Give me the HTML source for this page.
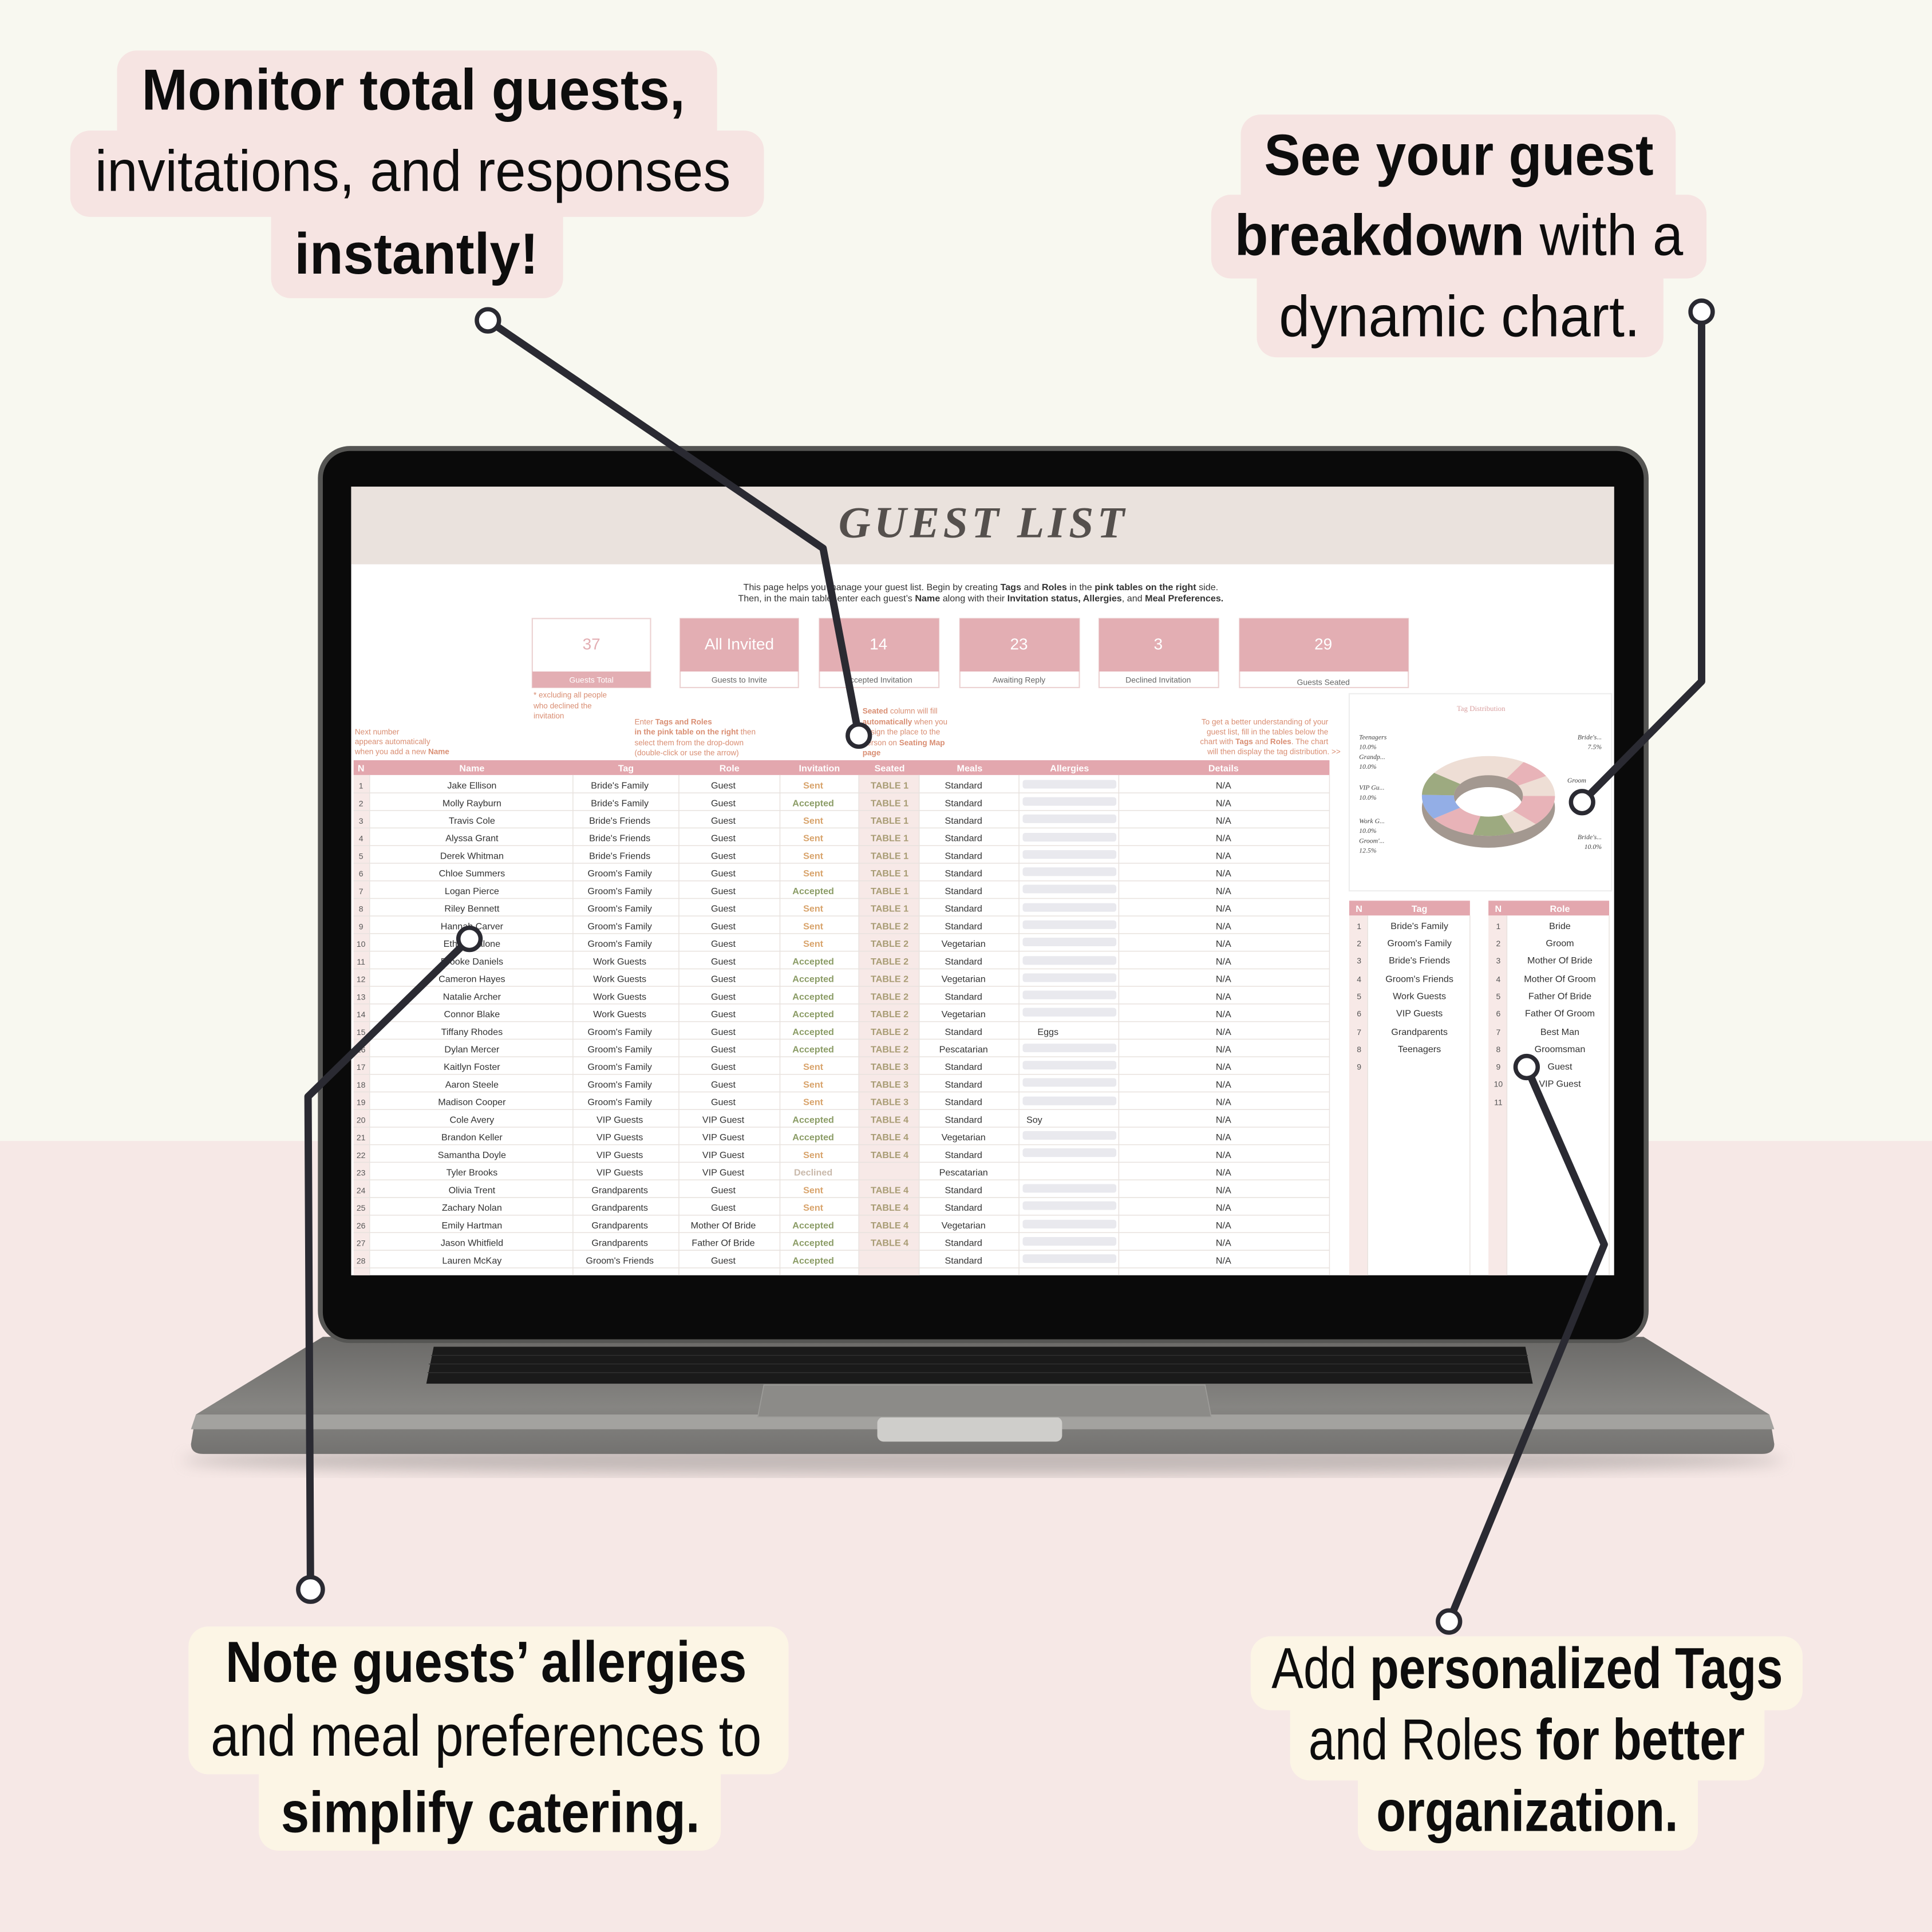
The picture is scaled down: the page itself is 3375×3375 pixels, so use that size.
<!DOCTYPE html>
<html><head><meta charset="utf-8"><style>
html,body{margin:0;padding:0;background:#f8f8f0}
svg{display:block}
.c{font-family:"Liberation Sans",sans-serif;font-size:47px;fill:#0d0d0d}
.b{font-weight:bold}
.t{font-family:"Liberation Sans",sans-serif;font-size:7.5px;fill:#333;text-anchor:middle}
.s{fill:#d8a36b;font-weight:bold}
.a{fill:#8b9c66;font-weight:bold}
.tb{fill:#a89c74;font-weight:bold}
.h{font-family:"Liberation Sans",sans-serif;font-size:7.5px;fill:#fff;font-weight:bold;text-anchor:middle}
.n{font-family:"Liberation Sans",sans-serif;font-size:6.5px;fill:#555;text-anchor:middle}
.o{font-family:"Liberation Sans",sans-serif;font-size:6.3px;fill:#d98e73}
</style></head><body>
<svg width="3375" height="3375" viewBox="0 0 1568 1568" xmlns="http://www.w3.org/2000/svg">
<defs>
<linearGradient id="base" x1="0" y1="0" x2="0" y2="1"><stop offset="0" stop-color="#6a6967"/><stop offset="0.6" stop-color="#868582"/><stop offset="1" stop-color="#737270"/></linearGradient>
<filter id="bl"><feGaussianBlur stdDeviation="6"/></filter>
</defs>
<rect width="1568" height="926" fill="#f8f8f0"/>
<rect y="926" width="1568" height="642" fill="#f6e8e6"/>

<ellipse cx="798" cy="1185" rx="650" ry="12" fill="#a09a98" opacity="0.6" filter="url(#bl)"/>
<path d="M262 1085 L1334 1085 L1436 1148 L1440 1172 Q1440 1180 1430 1180 L165 1180 Q155 1180 155 1172 L159 1148 Z" fill="url(#base)"/>
<path d="M159 1148 L1436 1148 L1440 1160 L155 1160 Z" fill="#a3a29f"/>
<rect x="712" y="1150" width="150" height="20" rx="5" fill="#cfcecb"/>
<path d="M352 1093 L1238 1093 L1244 1123 L346 1123 Z" fill="#1a1a1a"/>
<g stroke="#333" stroke-width="0.6">
<line x1="350" y1="1100" x2="1240" y2="1100"/><line x1="348" y1="1107" x2="1241" y2="1107"/><line x1="347" y1="1114" x2="1242" y2="1114"/>
</g>
<path d="M620 1124 L978 1124 L983 1150 L615 1150 Z" fill="#8c8b88" stroke="#9d9c99" stroke-width="0.8"/>
<rect x="258" y="362" width="1080" height="728" rx="26" fill="#555553"/>
<rect x="262" y="366" width="1072" height="721" rx="22" fill="#0a0a0a"/>
<rect x="285" y="395" width="1025" height="640" fill="#ffffff"/>
<rect x="285" y="395" width="1025" height="63" fill="#eae2dd"/>
<text x="798" y="436" font-family="Liberation Serif,serif" font-style="italic" font-weight="bold" font-size="36" fill="#55504d" text-anchor="middle" letter-spacing="3">GUEST LIST</text>
<text x="796" y="479" class="t" font-size="7.5">This page helps you manage your guest list. Begin by creating <tspan font-weight="bold">Tags</tspan> and <tspan font-weight="bold">Roles</tspan> in the <tspan font-weight="bold">pink tables on the right</tspan> side.</text>
<text x="796" y="488" class="t" font-size="7.5">Then, in the main table, enter each guest’s <tspan font-weight="bold">Name</tspan> along with their <tspan font-weight="bold">Invitation status, Allergies</tspan>, and <tspan font-weight="bold">Meal Preferences.</tspan></text>
<g font-family="Liberation Sans,sans-serif" text-anchor="middle">
<rect x="432" y="502" width="96" height="56" fill="#fff" stroke="#ecd2d2"/><rect x="432" y="545" width="96" height="13" fill="#e3aeb3"/>
<text x="480" y="527" font-size="13" fill="#e3aeb3">37</text><text x="480" y="554" font-size="6.5" fill="#fff">Guests Total</text>
<rect x="552" y="502" width="96" height="56" fill="#fff" stroke="#ecd2d2"/><rect x="552" y="502" width="96" height="43" fill="#e3aeb3"/>
<text x="600" y="527" font-size="13" fill="#fff">All Invited</text><text x="600" y="554" font-size="6.5" fill="#666">Guests to Invite</text>
<rect x="665" y="502" width="97" height="56" fill="#fff" stroke="#ecd2d2"/><rect x="665" y="502" width="97" height="43" fill="#e3aeb3"/>
<text x="713" y="527" font-size="13" fill="#fff">14</text><text x="713" y="554" font-size="6.5" fill="#666">Accepted Invitation</text>
<rect x="779" y="502" width="97" height="56" fill="#fff" stroke="#ecd2d2"/><rect x="779" y="502" width="97" height="43" fill="#e3aeb3"/>
<text x="827" y="527" font-size="13" fill="#fff">23</text><text x="827" y="554" font-size="6.5" fill="#666">Awaiting Reply</text>
<rect x="892" y="502" width="97" height="56" fill="#fff" stroke="#ecd2d2"/><rect x="892" y="502" width="97" height="43" fill="#e3aeb3"/>
<text x="940" y="527" font-size="13" fill="#fff">3</text><text x="940" y="554" font-size="6.5" fill="#666">Declined Invitation</text>
<rect x="1006" y="502" width="137" height="56" fill="#fff" stroke="#ecd2d2"/><rect x="1006" y="502" width="137" height="43" fill="#e3aeb3"/>
<text x="1074" y="527" font-size="13" fill="#fff">29</text><text x="1074" y="556" font-size="6.5" fill="#666">Guests Seated</text>
</g>
<text class="o" x="433" y="566">* excluding all people</text><text class="o" x="433" y="575">who declined the</text><text class="o" x="433" y="583">invitation</text>
<text class="o" x="288" y="596">Next number</text><text class="o" x="288" y="604">appears automatically</text><text class="o" x="288" y="612">when you add a new <tspan font-weight="bold">Name</tspan></text>
<text class="o" x="515" y="588">Enter <tspan font-weight="bold">Tags and Roles</tspan></text><text class="o" x="515" y="596"><tspan font-weight="bold">in the pink table on the right</tspan> then</text><text class="o" x="515" y="605">select them from the drop-down</text><text class="o" x="515" y="613">(double-click or use the arrow)</text>
<text class="o" x="700" y="579"><tspan font-weight="bold">Seated</tspan> column will fill</text><text class="o" x="700" y="588"><tspan font-weight="bold">automatically</tspan> when you</text><text class="o" x="700" y="596">assign the place to the</text><text class="o" x="700" y="605">person on <tspan font-weight="bold">Seating Map</tspan></text><text class="o" x="700" y="613" font-weight="bold">page</text>
<g text-anchor="end"><text class="o" x="1078" y="588">To get a better understanding of your</text><text class="o" x="1078" y="596">guest list, fill in the tables below the</text><text class="o" x="1078" y="604">chart with <tspan font-weight="bold">Tags</tspan> and <tspan font-weight="bold">Roles</tspan>. The chart</text><text class="o" x="1088" y="612">will then display the tag distribution. &gt;&gt;</text></g>

<rect x="697" y="629" width="49" height="406" fill="#f7e9e7"/>
<rect x="287" y="629" width="13" height="406" fill="#f7e9e7"/>
<rect x="287" y="617" width="792" height="12" fill="#e3a7ae"/>
<g class="h"><text x="293" y="626">N</text><text x="383" y="626">Name</text><text x="508" y="626">Tag</text><text x="592" y="626">Role</text><text x="665" y="626">Invitation</text><text x="722" y="626">Seated</text><text x="787" y="626">Meals</text><text x="868" y="626">Allergies</text><text x="993" y="626">Details</text></g>
<g stroke="#e8e2de" stroke-width="0.7">
<line x1="287" y1="643.5" x2="1079" y2="643.5"/><line x1="287" y1="657.8" x2="1079" y2="657.8"/><line x1="287" y1="672" x2="1079" y2="672"/><line x1="287" y1="686.3" x2="1079" y2="686.3"/><line x1="287" y1="700.6" x2="1079" y2="700.6"/><line x1="287" y1="714.9" x2="1079" y2="714.9"/><line x1="287" y1="729.2" x2="1079" y2="729.2"/><line x1="287" y1="743.4" x2="1079" y2="743.4"/><line x1="287" y1="757.7" x2="1079" y2="757.7"/><line x1="287" y1="772" x2="1079" y2="772"/><line x1="287" y1="786.3" x2="1079" y2="786.3"/><line x1="287" y1="800.5" x2="1079" y2="800.5"/><line x1="287" y1="814.8" x2="1079" y2="814.8"/><line x1="287" y1="829.1" x2="1079" y2="829.1"/><line x1="287" y1="843.4" x2="1079" y2="843.4"/><line x1="287" y1="857.7" x2="1079" y2="857.7"/><line x1="287" y1="871.9" x2="1079" y2="871.9"/><line x1="287" y1="886.2" x2="1079" y2="886.2"/><line x1="287" y1="900.5" x2="1079" y2="900.5"/><line x1="287" y1="914.8" x2="1079" y2="914.8"/><line x1="287" y1="929" x2="1079" y2="929"/><line x1="287" y1="943.3" x2="1079" y2="943.3"/><line x1="287" y1="957.6" x2="1079" y2="957.6"/><line x1="287" y1="971.9" x2="1079" y2="971.9"/><line x1="287" y1="986.2" x2="1079" y2="986.2"/><line x1="287" y1="1000.4" x2="1079" y2="1000.4"/><line x1="287" y1="1014.7" x2="1079" y2="1014.7"/><line x1="287" y1="1029" x2="1079" y2="1029"/>
<line x1="300" y1="629" x2="300" y2="1035"/><line x1="465" y1="629" x2="465" y2="1035"/><line x1="551" y1="629" x2="551" y2="1035"/><line x1="633" y1="629" x2="633" y2="1035"/><line x1="697" y1="629" x2="697" y2="1035"/><line x1="746" y1="629" x2="746" y2="1035"/><line x1="827" y1="629" x2="827" y2="1035"/><line x1="908" y1="629" x2="908" y2="1035"/><line x1="1079" y1="629" x2="1079" y2="1035"/>
</g>
<g fill="#e9e9ee">
<rect x="830" y="633" width="76" height="7" rx="2"/><rect x="830" y="647" width="76" height="7" rx="2"/><rect x="830" y="661" width="76" height="7" rx="2"/><rect x="830" y="676" width="76" height="7" rx="2"/><rect x="830" y="690" width="76" height="7" rx="2"/><rect x="830" y="704" width="76" height="7" rx="2"/><rect x="830" y="718" width="76" height="7" rx="2"/><rect x="830" y="733" width="76" height="7" rx="2"/><rect x="830" y="747" width="76" height="7" rx="2"/><rect x="830" y="761" width="76" height="7" rx="2"/><rect x="830" y="776" width="76" height="7" rx="2"/><rect x="830" y="790" width="76" height="7" rx="2"/><rect x="830" y="804" width="76" height="7" rx="2"/><rect x="830" y="818" width="76" height="7" rx="2"/><rect x="830" y="847" width="76" height="7" rx="2"/><rect x="830" y="861" width="76" height="7" rx="2"/><rect x="830" y="875" width="76" height="7" rx="2"/><rect x="830" y="890" width="76" height="7" rx="2"/><rect x="830" y="918" width="76" height="7" rx="2"/><rect x="830" y="932" width="76" height="7" rx="2"/><rect x="830" y="961" width="76" height="7" rx="2"/><rect x="830" y="975" width="76" height="7" rx="2"/><rect x="830" y="990" width="76" height="7" rx="2"/><rect x="830" y="1004" width="76" height="7" rx="2"/><rect x="830" y="1018" width="76" height="7" rx="2"/>
</g>
<g class="t">
<g transform="translate(0,640)"><text x="293" class="n">1</text><text x="383">Jake Ellison</text><text x="503">Bride's Family</text><text x="587">Guest</text><text x="660" class="s">Sent</text><text x="722" class="tb">TABLE 1</text><text x="782">Standard</text><text x="993">N/A</text></g>
<g transform="translate(0,654.3)"><text x="293" class="n">2</text><text x="383">Molly Rayburn</text><text x="503">Bride's Family</text><text x="587">Guest</text><text x="660" class="a">Accepted</text><text x="722" class="tb">TABLE 1</text><text x="782">Standard</text><text x="993">N/A</text></g>
<g transform="translate(0,668.5)"><text x="293" class="n">3</text><text x="383">Travis Cole</text><text x="503">Bride's Friends</text><text x="587">Guest</text><text x="660" class="s">Sent</text><text x="722" class="tb">TABLE 1</text><text x="782">Standard</text><text x="993">N/A</text></g>
<g transform="translate(0,682.8)"><text x="293" class="n">4</text><text x="383">Alyssa Grant</text><text x="503">Bride's Friends</text><text x="587">Guest</text><text x="660" class="s">Sent</text><text x="722" class="tb">TABLE 1</text><text x="782">Standard</text><text x="993">N/A</text></g>
<g transform="translate(0,697.1)"><text x="293" class="n">5</text><text x="383">Derek Whitman</text><text x="503">Bride's Friends</text><text x="587">Guest</text><text x="660" class="s">Sent</text><text x="722" class="tb">TABLE 1</text><text x="782">Standard</text><text x="993">N/A</text></g>
<g transform="translate(0,711.4)"><text x="293" class="n">6</text><text x="383">Chloe Summers</text><text x="503">Groom's Family</text><text x="587">Guest</text><text x="660" class="s">Sent</text><text x="722" class="tb">TABLE 1</text><text x="782">Standard</text><text x="993">N/A</text></g>
<g transform="translate(0,725.6)"><text x="293" class="n">7</text><text x="383">Logan Pierce</text><text x="503">Groom's Family</text><text x="587">Guest</text><text x="660" class="a">Accepted</text><text x="722" class="tb">TABLE 1</text><text x="782">Standard</text><text x="993">N/A</text></g>
<g transform="translate(0,739.9)"><text x="293" class="n">8</text><text x="383">Riley Bennett</text><text x="503">Groom's Family</text><text x="587">Guest</text><text x="660" class="s">Sent</text><text x="722" class="tb">TABLE 1</text><text x="782">Standard</text><text x="993">N/A</text></g>
<g transform="translate(0,754.2)"><text x="293" class="n">9</text><text x="383">Hannah Carver</text><text x="503">Groom's Family</text><text x="587">Guest</text><text x="660" class="s">Sent</text><text x="722" class="tb">TABLE 2</text><text x="782">Standard</text><text x="993">N/A</text></g>
<g transform="translate(0,768.5)"><text x="293" class="n">10</text><text x="383">Ethan Malone</text><text x="503">Groom's Family</text><text x="587">Guest</text><text x="660" class="s">Sent</text><text x="722" class="tb">TABLE 2</text><text x="782">Vegetarian</text><text x="993">N/A</text></g>
<g transform="translate(0,782.8)"><text x="293" class="n">11</text><text x="383">Brooke Daniels</text><text x="503">Work Guests</text><text x="587">Guest</text><text x="660" class="a">Accepted</text><text x="722" class="tb">TABLE 2</text><text x="782">Standard</text><text x="993">N/A</text></g>
<g transform="translate(0,797)"><text x="293" class="n">12</text><text x="383">Cameron Hayes</text><text x="503">Work Guests</text><text x="587">Guest</text><text x="660" class="a">Accepted</text><text x="722" class="tb">TABLE 2</text><text x="782">Vegetarian</text><text x="993">N/A</text></g>
<g transform="translate(0,811.3)"><text x="293" class="n">13</text><text x="383">Natalie Archer</text><text x="503">Work Guests</text><text x="587">Guest</text><text x="660" class="a">Accepted</text><text x="722" class="tb">TABLE 2</text><text x="782">Standard</text><text x="993">N/A</text></g>
<g transform="translate(0,825.6)"><text x="293" class="n">14</text><text x="383">Connor Blake</text><text x="503">Work Guests</text><text x="587">Guest</text><text x="660" class="a">Accepted</text><text x="722" class="tb">TABLE 2</text><text x="782">Vegetarian</text><text x="993">N/A</text></g>
<g transform="translate(0,839.9)"><text x="293" class="n">15</text><text x="383">Tiffany Rhodes</text><text x="503">Groom's Family</text><text x="587">Guest</text><text x="660" class="a">Accepted</text><text x="722" class="tb">TABLE 2</text><text x="782">Standard</text><text x="842" text-anchor="start">Eggs</text><text x="993">N/A</text></g>
<g transform="translate(0,854.1)"><text x="293" class="n">16</text><text x="383">Dylan Mercer</text><text x="503">Groom's Family</text><text x="587">Guest</text><text x="660" class="a">Accepted</text><text x="722" class="tb">TABLE 2</text><text x="782">Pescatarian</text><text x="993">N/A</text></g>
<g transform="translate(0,868.4)"><text x="293" class="n">17</text><text x="383">Kaitlyn Foster</text><text x="503">Groom's Family</text><text x="587">Guest</text><text x="660" class="s">Sent</text><text x="722" class="tb">TABLE 3</text><text x="782">Standard</text><text x="993">N/A</text></g>
<g transform="translate(0,882.7)"><text x="293" class="n">18</text><text x="383">Aaron Steele</text><text x="503">Groom's Family</text><text x="587">Guest</text><text x="660" class="s">Sent</text><text x="722" class="tb">TABLE 3</text><text x="782">Standard</text><text x="993">N/A</text></g>
<g transform="translate(0,897)"><text x="293" class="n">19</text><text x="383">Madison Cooper</text><text x="503">Groom's Family</text><text x="587">Guest</text><text x="660" class="s">Sent</text><text x="722" class="tb">TABLE 3</text><text x="782">Standard</text><text x="993">N/A</text></g>
<g transform="translate(0,911.3)"><text x="293" class="n">20</text><text x="383">Cole Avery</text><text x="503">VIP Guests</text><text x="587">VIP Guest</text><text x="660" class="a">Accepted</text><text x="722" class="tb">TABLE 4</text><text x="782">Standard</text><text x="833" text-anchor="start">Soy</text><text x="993">N/A</text></g>
<g transform="translate(0,925.5)"><text x="293" class="n">21</text><text x="383">Brandon Keller</text><text x="503">VIP Guests</text><text x="587">VIP Guest</text><text x="660" class="a">Accepted</text><text x="722" class="tb">TABLE 4</text><text x="782">Vegetarian</text><text x="993">N/A</text></g>
<g transform="translate(0,939.8)"><text x="293" class="n">22</text><text x="383">Samantha Doyle</text><text x="503">VIP Guests</text><text x="587">VIP Guest</text><text x="660" class="s">Sent</text><text x="722" class="tb">TABLE 4</text><text x="782">Standard</text><text x="993">N/A</text></g>
<g transform="translate(0,954.1)"><text x="293" class="n">23</text><text x="383">Tyler Brooks</text><text x="503">VIP Guests</text><text x="587">VIP Guest</text><text x="660" fill="#c9b9ab" font-weight="bold">Declined</text><text x="782">Pescatarian</text><text x="993">N/A</text></g>
<g transform="translate(0,968.4)"><text x="293" class="n">24</text><text x="383">Olivia Trent</text><text x="503">Grandparents</text><text x="587">Guest</text><text x="660" class="s">Sent</text><text x="722" class="tb">TABLE 4</text><text x="782">Standard</text><text x="993">N/A</text></g>
<g transform="translate(0,982.6)"><text x="293" class="n">25</text><text x="383">Zachary Nolan</text><text x="503">Grandparents</text><text x="587">Guest</text><text x="660" class="s">Sent</text><text x="722" class="tb">TABLE 4</text><text x="782">Standard</text><text x="993">N/A</text></g>
<g transform="translate(0,996.9)"><text x="293" class="n">26</text><text x="383">Emily Hartman</text><text x="503">Grandparents</text><text x="587">Mother Of Bride</text><text x="660" class="a">Accepted</text><text x="722" class="tb">TABLE 4</text><text x="782">Vegetarian</text><text x="993">N/A</text></g>
<g transform="translate(0,1011.2)"><text x="293" class="n">27</text><text x="383">Jason Whitfield</text><text x="503">Grandparents</text><text x="587">Father Of Bride</text><text x="660" class="a">Accepted</text><text x="722" class="tb">TABLE 4</text><text x="782">Standard</text><text x="993">N/A</text></g>
<g transform="translate(0,1025.5)"><text x="293" class="n">28</text><text x="383">Lauren McKay</text><text x="503">Groom's Friends</text><text x="587">Guest</text><text x="660" class="a">Accepted</text><text x="782">Standard</text><text x="993">N/A</text></g>
</g>

<rect x="1095" y="563" width="213" height="160" fill="#fff" stroke="#eee"/>
<text x="1202" y="577" font-family="Liberation Serif,serif" font-size="6" fill="#d9a0a0" text-anchor="middle">Tag Distribution</text>
<g transform="translate(1208,646) scale(1,0.6)">
<circle r="41" fill="none" stroke="#a39890" stroke-width="26" transform="translate(0,16)"/>
<circle r="41" fill="none" stroke="#eeded5" stroke-width="26"/>
<circle r="41" fill="none" stroke="#e8b3b8" stroke-width="26" stroke-dasharray="32 226" stroke-dashoffset="0"/>
<circle r="41" fill="none" stroke="#9daa80" stroke-width="26" stroke-dasharray="26 232" stroke-dashoffset="-48"/>
<circle r="41" fill="none" stroke="#e8b3b8" stroke-width="26" stroke-dasharray="30 228" stroke-dashoffset="-74"/>
<circle r="41" fill="none" stroke="#93aee6" stroke-width="26" stroke-dasharray="26 232" stroke-dashoffset="-104"/>
<circle r="41" fill="none" stroke="#9daa80" stroke-width="26" stroke-dasharray="24 234" stroke-dashoffset="-130"/>
<circle r="41" fill="none" stroke="#e8b3b8" stroke-width="26" stroke-dasharray="20 238" stroke-dashoffset="-216"/>
</g>
<g font-family="Liberation Serif,serif" font-size="5.5" font-style="italic" fill="#444">
<text x="1103" y="600">Teenagers</text><text x="1103" y="608">10.0%</text><text x="1103" y="616">Grandp...</text><text x="1103" y="624">10.0%</text>
<text x="1103" y="641">VIP Gu...</text><text x="1103" y="649">10.0%</text>
<text x="1103" y="668">Work G...</text><text x="1103" y="676">10.0%</text><text x="1103" y="684">Groom'...</text><text x="1103" y="692">12.5%</text>
<text x="1300" y="600" text-anchor="end">Bride's...</text><text x="1300" y="608" text-anchor="end">7.5%</text>
<text x="1272" y="635">Groom</text>
<text x="1300" y="681" text-anchor="end">Bride's...</text><text x="1300" y="689" text-anchor="end">10.0%</text>
</g>

<rect x="1095" y="743" width="15" height="292" fill="#f7e9e7"/><rect x="1208" y="743" width="15" height="292" fill="#f7e9e7"/>
<rect x="1095" y="731" width="98" height="12" fill="#e3a7ae"/><rect x="1208" y="731" width="98" height="12" fill="#e3a7ae"/>
<g class="h"><text x="1103" y="740">N</text><text x="1152" y="740">Tag</text><text x="1216" y="740">N</text><text x="1266" y="740">Role</text></g>
<g stroke="#e8e2de" stroke-width="0.7">
<line x1="1193" y1="743" x2="1193" y2="1035"/><line x1="1306" y1="743" x2="1306" y2="1035"/><line x1="1110" y1="743" x2="1110" y2="1035"/><line x1="1223" y1="743" x2="1223" y2="1035"/>
</g>
<g class="t" font-size="7.5">
<text x="1103" y="754" class="n">1</text><text x="1152" y="754">Bride's Family</text><text x="1216" y="754" class="n">1</text><text x="1266" y="754">Bride</text>
<text x="1103" y="768" class="n">2</text><text x="1152" y="768">Groom's Family</text><text x="1216" y="768" class="n">2</text><text x="1266" y="768">Groom</text>
<text x="1103" y="782" class="n">3</text><text x="1152" y="782">Bride's Friends</text><text x="1216" y="782" class="n">3</text><text x="1266" y="782">Mother Of Bride</text>
<text x="1103" y="797" class="n">4</text><text x="1152" y="797">Groom's Friends</text><text x="1216" y="797" class="n">4</text><text x="1266" y="797">Mother Of Groom</text>
<text x="1103" y="811" class="n">5</text><text x="1152" y="811">Work Guests</text><text x="1216" y="811" class="n">5</text><text x="1266" y="811">Father Of Bride</text>
<text x="1103" y="825" class="n">6</text><text x="1152" y="825">VIP Guests</text><text x="1216" y="825" class="n">6</text><text x="1266" y="825">Father Of Groom</text>
<text x="1103" y="840" class="n">7</text><text x="1152" y="840">Grandparents</text><text x="1216" y="840" class="n">7</text><text x="1266" y="840">Best Man</text>
<text x="1103" y="854" class="n">8</text><text x="1152" y="854">Teenagers</text><text x="1216" y="854" class="n">8</text><text x="1266" y="854">Groomsman</text>
<text x="1103" y="868" class="n">9</text><text x="1216" y="868" class="n">9</text><text x="1266" y="868">Guest</text>
<text x="1216" y="882" class="n">10</text><text x="1266" y="882">VIP Guest</text>
<text x="1216" y="897" class="n">11</text>
</g>

<g stroke="#2a2a32" stroke-width="6" fill="none" stroke-linejoin="round" stroke-linecap="round">
<polyline points="396,260 668,445 697,597"/>
<polyline points="1381,253 1381,553 1284,651"/>
<polyline points="252,1290 250,890 381,762"/>
<polyline points="1176,1316 1302,1010 1239,866"/>
</g>
<g fill="#fff" stroke="#2a2a32" stroke-width="3.5">
<circle cx="396" cy="260" r="9"/><circle cx="697" cy="597" r="9"/>
<circle cx="1381" cy="253" r="9"/><circle cx="1284" cy="651" r="9"/>
<circle cx="252" cy="1290" r="10"/><circle cx="381" cy="762" r="9"/>
<circle cx="1176" cy="1316" r="9"/><circle cx="1239" cy="866" r="9"/>
</g>

<g fill="#f6e4e2">
<rect x="95" y="41" width="487" height="80" rx="16"/><rect x="57" y="106" width="563" height="70" rx="16"/><rect x="220" y="160" width="237" height="82" rx="16"/>
<rect x="1007" y="93" width="353" height="80" rx="16"/><rect x="983" y="158" width="402" height="68" rx="16"/><rect x="1020" y="210" width="330" height="80" rx="16"/>
</g>
<g fill="#fcf5e5">
<rect x="153" y="1320" width="487" height="120" rx="16"/><rect x="210" y="1420" width="375" height="82" rx="16"/>
<rect x="1015" y="1328" width="448" height="60" rx="16"/><rect x="1047" y="1370" width="385" height="75" rx="16"/><rect x="1102" y="1430" width="276" height="72" rx="16"/>
</g>
<text class="c b" x="115" y="89" textLength="441" lengthAdjust="spacingAndGlyphs">Monitor total guests,</text>
<text class="c" x="77" y="155" textLength="516" lengthAdjust="spacingAndGlyphs">invitations, and responses</text>
<text class="c b" x="239" y="222" textLength="198" lengthAdjust="spacingAndGlyphs">instantly!</text>
<text class="c b" x="1026" y="142" textLength="316" lengthAdjust="spacingAndGlyphs">See your guest</text>
<text class="c" x="1002" y="207" textLength="364" lengthAdjust="spacingAndGlyphs"><tspan font-weight="bold">breakdown</tspan> with a</text>
<text class="c" x="1038" y="273" textLength="293" lengthAdjust="spacingAndGlyphs">dynamic chart.</text>
<text class="c b" x="183" y="1365" textLength="423" lengthAdjust="spacingAndGlyphs">Note guests’ allergies</text>
<text class="c" x="171" y="1425" textLength="447" lengthAdjust="spacingAndGlyphs">and meal preferences to</text>
<text class="c b" x="228" y="1487" textLength="340" lengthAdjust="spacingAndGlyphs">simplify catering.</text>
<text class="c" x="1032" y="1370" textLength="415" lengthAdjust="spacingAndGlyphs">Add <tspan font-weight="bold">personalized Tags</tspan></text>
<text class="c" x="1062" y="1428" textLength="354" lengthAdjust="spacingAndGlyphs">and Roles <tspan font-weight="bold">for better</tspan></text>
<text class="c b" x="1117" y="1486" textLength="245" lengthAdjust="spacingAndGlyphs">organization.</text>
</svg>
</body></html>
